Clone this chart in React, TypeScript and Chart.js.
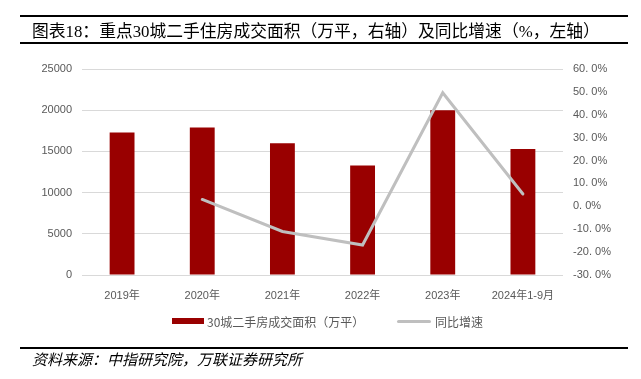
import React, { useEffect, useRef } from "react";
import { Chart, registerables } from "chart.js";

Chart.register(...registerables);

const categories = ["2019年", "2020年", "2021年", "2022年", "2023年", "2024年1-9月"];
const areaValues = [17300, 17900, 16000, 13300, 20000, 15300];
const yoyValues = [null, 3.0, -11.0, -16.9, 49.6, 5.4];

const titleText = "图表18：重点30城二手住房成交面积（万平，右轴）及同比增速（%，左轴）";
const sourceText = "资料来源：中指研究院，万联证券研究所";
const barLabel = "30城二手房成交面积（万平）";
const lineLabel = "同比增速";

const BAR_COLOR = "#990000";
const LINE_COLOR = "#bfbfbf";
const TICK_COLOR = "#595959";
const TICK_FONT = { family: "'Liberation Sans', 'Noto Sans CJK SC', sans-serif", size: 11 };

export default function App() {
  const canvasRef = useRef<HTMLCanvasElement | null>(null);

  useEffect(() => {
    const canvas = canvasRef.current;
    if (!canvas) return;
    const chart = new Chart(canvas, {
      type: "bar",
      data: {
        labels: categories,
        datasets: [
          {
            type: "line",
            label: lineLabel,
            data: yoyValues as any,
            yAxisID: "y1",
            borderColor: LINE_COLOR,
            backgroundColor: LINE_COLOR,
            borderWidth: 3,
            pointRadius: 0,
            tension: 0,
            order: 0,
            borderCapStyle: "round",
          } as any,
          {
            type: "bar",
            label: barLabel,
            data: areaValues,
            yAxisID: "y",
            backgroundColor: BAR_COLOR,
            barPercentage: 0.31,
            categoryPercentage: 1,
            order: 1,
          },
        ],
      },
      options: {
        responsive: false,
        animation: false,
        layout: { padding: { top: 69, bottom: 74, left: 0, right: 0 } },
        plugins: {
          legend: { display: false },
          tooltip: { enabled: false },
          title: { display: false },
        },
        scales: {
          x: {
            offset: true,
            grid: { display: false },
            border: { display: false },
            ticks: { color: TICK_COLOR, font: TICK_FONT, padding: 6, maxRotation: 0, autoSkip: false },
            afterFit: (s: any) => { s.height = 30; },
          },
          y: {
            position: "left",
            min: 0,
            max: 25000,
            grid: { color: "#d9d9d9", lineWidth: 1, drawTicks: false },
            border: { display: false },
            ticks: {
              stepSize: 5000,
              color: TICK_COLOR,
              font: TICK_FONT,
              padding: 10,
              autoSkip: false,
              callback: (v: any) => String(v),
            },
            afterFit: (s: any) => { s.width = 82; },
          },
          y1: {
            position: "right",
            min: -30,
            max: 60,
            grid: { display: false, drawTicks: false },
            border: { display: false },
            ticks: {
              stepSize: 10,
              color: TICK_COLOR,
              font: TICK_FONT,
              padding: 10,
              autoSkip: false,
              callback: (v: any) => Number(v).toFixed(1).replace(".", ". ") + "%",
            },
            afterFit: (s: any) => { s.width = 78; },
          },
        },
      },
    });
    return () => chart.destroy();
  }, []);

  const cjk = "'Noto Sans CJK SC', sans-serif";

  return (
    <div style={{ position: "fixed", left: 0, top: 0, width: 641, height: 379, background: "#fff", overflow: "hidden" }}>
      <canvas ref={canvasRef} width={641} height={379} style={{ position: "absolute", left: 0, top: 0, width: 641, height: 379 }} />
      <div
        style={{
          position: "absolute",
          left: 20,
          top: 15,
          width: 608,
          height: 25,
          borderTop: "2px solid #000",
          borderBottom: "2px solid #000",
          boxSizing: "content-box",
        }}
      >
        <div
          style={{
            position: "absolute",
            left: 12,
            top: 2,
            lineHeight: "25px",
            fontSize: 16.8,
            fontFamily: "'Liberation Serif', 'Noto Sans CJK SC', serif",
            color: "#000",
            whiteSpace: "nowrap",
          }}
        >
          {titleText}
        </div>
      </div>
      <div style={{ position: "absolute", left: 172, top: 318, width: 32, height: 6, background: BAR_COLOR }} />
      <div
        style={{
          position: "absolute",
          left: 207,
          top: 314,
          lineHeight: "16px",
          fontSize: 12,
          fontFamily: cjk,
          color: TICK_COLOR,
          whiteSpace: "nowrap",
        }}
      >
        {barLabel}
      </div>
      <div style={{ position: "absolute", left: 397, top: 320, width: 34, height: 3, background: LINE_COLOR, borderRadius: 1.5 }} />
      <div
        style={{
          position: "absolute",
          left: 435,
          top: 314,
          lineHeight: "16px",
          fontSize: 12,
          fontFamily: cjk,
          color: TICK_COLOR,
          whiteSpace: "nowrap",
        }}
      >
        {lineLabel}
      </div>
      <div style={{ position: "absolute", left: 20, top: 347, width: 608, borderTop: "2px solid #000" }} />
      <div
        style={{
          position: "absolute",
          left: 32,
          top: 350,
          lineHeight: "18px",
          fontSize: 15,
          fontStyle: "italic",
          fontFamily: cjk,
          color: "#000",
          whiteSpace: "nowrap",
        }}
      >
        {sourceText}
      </div>
    </div>
  );
}
